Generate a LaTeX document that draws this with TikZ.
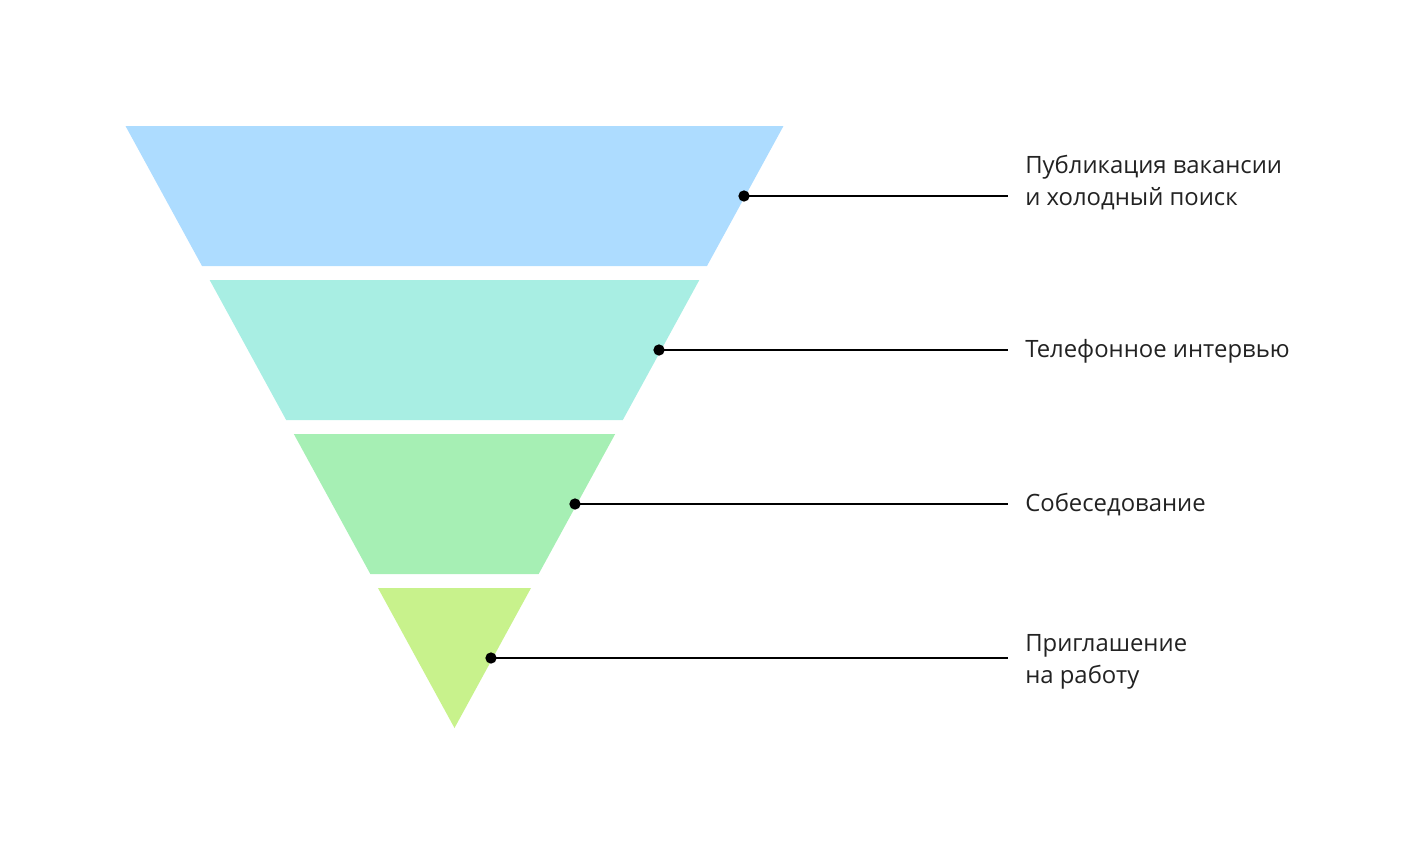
\documentclass[tikz,border=0pt]{standalone}
\usepackage{fontspec}
\setmainfont{Open Sans}
\definecolor{layerA}{HTML}{ADDCFF}
\definecolor{layerB}{HTML}{A8EEE3}
\definecolor{layerC}{HTML}{A6EFB4}
\definecolor{layerD}{HTML}{C8F28C}
\definecolor{ink}{HTML}{222222}
\tikzset{
  dot/.style = {circle, fill = black, inner sep = 0pt, minimum size = 8.5pt},
  leader/.style = {line width = 1.5pt, black},
  label/.style = {anchor = base west, inner sep = 0pt, align = left, text = ink,
    font = \fontsize{17.9}{24}\selectfont}
}
\begin{document}
\begin{tikzpicture}[x = .75pt, y = -.75pt]
  \useasboundingbox (0,0) rectangle (1418,854);
  \foreach \t/\b/\c in {126/266/layerA, 280/420/layerB, 434/574/layerC, 588/728/layerD}
    \fill [\c] ({454.5-(728-\t)*.5465},\t) -- ({454.5+(728-\t)*.5465},\t)
      -- ({454.5+(728-\b)*.5465},\b) -- ({454.5-(728-\b)*.5465},\b) -- cycle;
  % dots and leaders
  \node [dot] (d1) at (744,196) {};
  \node [dot] (d2) at (659,350) {};
  \node [dot] (d3) at (575,504) {};
  \node [dot] (d4) at (491,658) {};
  \coordinate (e1) at (1008,196);
  \coordinate (e2) at (1008,350);
  \coordinate (e3) at (1008,504);
  \coordinate (e4) at (1008,658);
  \draw [leader] (d1.center) -- (e1);
  \draw [leader] (d2.center) -- (e2);
  \draw [leader] (d3.center) -- (e3);
  \draw [leader] (d4.center) -- (e4);
  % labels
  \node [label] (t1) at (1025,205) {Публикация вакансии\\и холодный поиск};
  \node [label] (t2) at (1025,357) {Телефонное интервью};
  \node [label] (t3) at (1025,511) {Собеседование};
  \node [label] (t4) at (1025,683) {Приглашение\\на работу};
\end{tikzpicture}
\end{document}
